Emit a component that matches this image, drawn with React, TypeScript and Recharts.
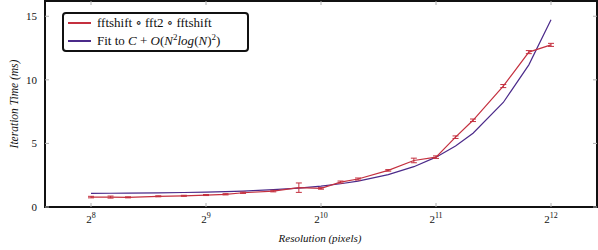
import React from "react";
import {
  ComposedChart,
  Line,
  XAxis,
  YAxis,
  ErrorBar,
  ReferenceArea,
} from "recharts";

const resolutions = [256, 288, 320, 384, 448, 512, 576, 640, 768, 896, 1024, 1152, 1280, 1536, 1792, 2048, 2304, 2560, 3072, 3584, 4096];
const measuredTimes = [0.78, 0.78, 0.76, 0.84, 0.88, 0.94, 1.0, 1.12, 1.25, 1.52, 1.46, 1.96, 2.2, 2.88, 3.66, 3.92, 5.49, 6.82, 9.51, 12.18, 12.75];
const measuredErrors = [0.06, 0.08, 0.04, 0.04, 0.04, 0.04, 0.05, 0.05, 0.06, 0.37, 0.06, 0.08, 0.08, 0.06, 0.18, 0.1, 0.1, 0.1, 0.12, 0.12, 0.12];
const fitTimes = [1.07, 1.08, 1.09, 1.11, 1.14, 1.17, 1.21, 1.25, 1.36, 1.49, 1.64, 1.83, 2.04, 2.55, 3.17, 3.92, 4.79, 5.8, 8.22, 11.18, 14.72];

const xTicks = [256, 512, 1024, 2048, 4096];
const xTickExponents = ["8", "9", "10", "11", "12"];
const yTicks = [0, 5, 10, 15];

const X_MIN = 194.0;
const X_MAX = 5404.7;
const Y_MAX = 16.2;

const RED = "#c4303f";
const PURPLE = "#4b2a8a";
const FONT = "'Liberation Serif', 'Times New Roman', 'DejaVu Serif', serif";

const W = 598;
const H = 250;
const LEFT = 45;
const RIGHT = 597;
const TOP = 1;
const BOTTOM = 207;
const TICK_LEN = 4;

const data = resolutions.map((n, i) => ({
  n,
  time: measuredTimes[i],
  err: measuredErrors[i],
  fit: fitTimes[i],
}));

const XTick = (props: any) => {
  const { x, payload } = props;
  const exp = xTickExponents[xTicks.indexOf(payload.value)] ?? "";
  return (
    <g>
      <line x1={x} x2={x} y1={BOTTOM} y2={BOTTOM - TICK_LEN} stroke="#b0b0b0" strokeWidth={1} />
      <line x1={x} x2={x} y1={TOP} y2={TOP + TICK_LEN} stroke="#b0b0b0" strokeWidth={1} />
      <text x={x} y={223} textAnchor="middle" style={{ fontFamily: FONT }} fontSize={11} fill="#111">
        2
        <tspan dy={-5} fontSize={8}>{exp}</tspan>
      </text>
    </g>
  );
};

const YTick = (props: any) => {
  const { y, payload } = props;
  return (
    <g>
      <line x1={LEFT} x2={LEFT + TICK_LEN} y1={y} y2={y} stroke="#b0b0b0" strokeWidth={1} />
      <line x1={RIGHT - TICK_LEN} x2={RIGHT} y1={y} y2={y} stroke="#b0b0b0" strokeWidth={1} />
      <text x={37} y={y + 4} textAnchor="end" style={{ fontFamily: FONT }} fontSize={11} fill="#111">
        {payload.value}
      </text>
    </g>
  );
};

const LegendBox = () => (
  <div
    style={{
      position: "absolute",
      left: 62,
      top: 12,
      width: 179,
      height: 36,
      border: "2px solid #111",
      borderRadius: 4,
      background: "#fff",
      padding: "0px 0 0px 4px",
      fontFamily: FONT,
      fontSize: 13,
      lineHeight: "18px",
      color: "#111",
      whiteSpace: "nowrap",
    }}
  >
    <div style={{ display: "flex", alignItems: "center" }}>
      <span style={{ display: "inline-block", width: 23, height: 2, background: RED, marginRight: 6 }} />
      <span>fftshift ∘ fft2 ∘ fftshift</span>
    </div>
    <div style={{ display: "flex", alignItems: "center" }}>
      <span style={{ display: "inline-block", width: 23, height: 2, background: PURPLE, marginRight: 6 }} />
      <span>
        Fit to <i>C</i> + <i>O</i>(<i>N</i>
        <sup style={{ fontSize: 9, lineHeight: 0 }}>2</sup>
        <i>log</i>(<i>N</i>)<sup style={{ fontSize: 9, lineHeight: 0 }}>2</sup>)
      </span>
    </div>
  </div>
);

export default function App() {
  return (
    <div style={{ position: "absolute", left: 0, top: 0, width: W, height: H, background: "#fff" }}>
      <ComposedChart
        width={W}
        height={H}
        data={data}
        margin={{ top: TOP, right: W - RIGHT, bottom: 0, left: 0 }}
      >
        <XAxis
          dataKey="n"
          type="number"
          scale="log"
          domain={[X_MIN, X_MAX]}
          allowDataOverflow
          ticks={xTicks}
          tick={<XTick />}
          tickLine={false}
          axisLine={false}
          height={H - BOTTOM}
          interval={0}
        />
        <YAxis
          type="number"
          domain={[0, Y_MAX]}
          allowDataOverflow
          ticks={yTicks}
          tick={<YTick />}
          tickLine={false}
          axisLine={false}
          width={LEFT}
          interval={0}
        />
        <ReferenceArea
          x1={X_MIN}
          x2={X_MAX}
          y1={0}
          y2={Y_MAX}
          fill="none"
          stroke="#111"
          strokeWidth={2}
          fillOpacity={0}
        />
        <Line
          type="linear"
          dataKey="fit"
          stroke={PURPLE}
          strokeWidth={1.2}
          dot={false}
          isAnimationActive={false}
        />
        <Line
          type="linear"
          dataKey="time"
          stroke={RED}
          strokeWidth={1.2}
          dot={false}
          isAnimationActive={false}
        >
          <ErrorBar dataKey="err" direction="y" width={3} stroke={RED} strokeWidth={1} isAnimationActive={false} />
        </Line>
      </ComposedChart>
      <LegendBox />
      <div
        style={{
          position: "absolute",
          left: 0,
          top: 232,
          width: 640,
          textAlign: "center",
          fontFamily: FONT,
          fontStyle: "italic",
          fontSize: 11,
          color: "#111",
        }}
      >
        Resolution (pixels)
      </div>
      <div
        style={{
          position: "absolute",
          left: 14,
          top: 104,
          transform: "translate(-50%, -50%) rotate(-90deg)",
          whiteSpace: "nowrap",
          fontFamily: FONT,
          fontStyle: "italic",
          fontSize: 11.5,
          color: "#111",
        }}
      >
        Iteration Time (ms)
      </div>
    </div>
  );
}
